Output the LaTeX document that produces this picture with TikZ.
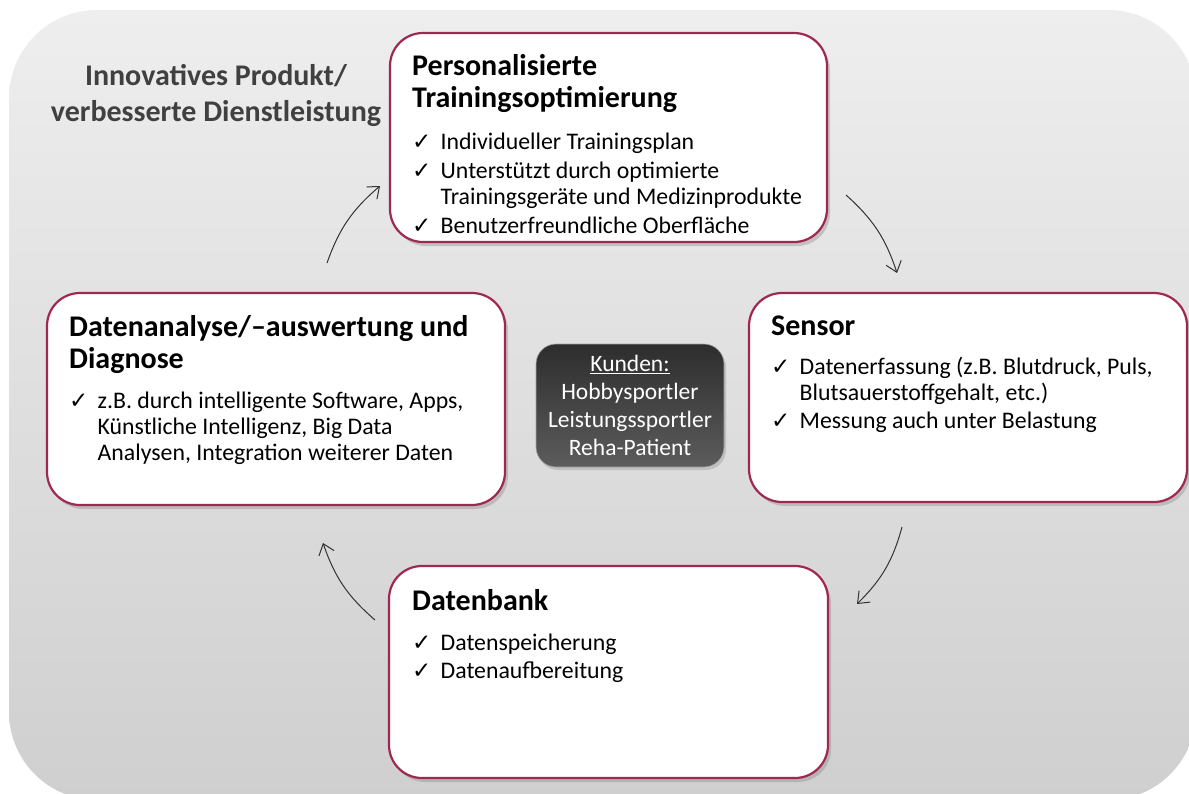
\documentclass[tikz,border=0pt]{standalone}
\usepackage{fontspec}
\setmainfont{Carlito}
\newfontfamily\chkfont{DejaVu Sans}
\usetikzlibrary{shadows,arrows.meta}

\definecolor{rim}{RGB}{160,40,80}
\definecolor{bgtop}{RGB}{238,238,238}
\definecolor{bgbot}{RGB}{207,207,207}
\definecolor{kundtop}{RGB}{45,45,45}
\definecolor{kundbot}{RGB}{92,92,92}
\definecolor{labelgray}{RGB}{64,64,64}

\newcommand{\chk}{\makebox[28.5pt][l]{\chkfont\fontsize{23}{23}\selectfont ✓}}
\newcommand{\ind}{\hspace*{28.5pt}}

\tikzset{
  card/.style={draw=rim, line width=2.2pt, fill=white, rounded corners=33pt,
    drop shadow={shadow xshift=3pt, shadow yshift=-4pt, opacity=0.35}},
  heading/.style={anchor=base west, inner sep=0pt, align=left,
    font=\fontsize{30}{32}\selectfont\bfseries},
  items/.style={anchor=base west, inner sep=0pt, align=left,
    font=\fontsize{23.8}{26}\selectfont},
  flow/.style={line width=1pt, draw=black!80, -{Straight Barb[length=10pt,width=16pt]}}
}

\begin{document}
\begin{tikzpicture}[x=1pt, y=-1pt]
  \useasboundingbox (0,0) rectangle (1189,793);
  \shade[top color=bgtop, bottom color=bgbot, rounded corners=88pt] (9,10) rectangle (1196,800);

  \node[card, minimum width=437pt, minimum height=209pt] (train) at (608.5,137.5) {};
  \node[card, minimum width=438pt, minimum height=209pt] (sensor) at (968,397.5) {};
  \node[card, minimum width=458pt, minimum height=212pt] (analyse) at (276,399) {};
  \node[card, minimum width=439pt, minimum height=212pt] (bank) at (608.5,672) {};
  \node[draw=gray!70, line width=0.6pt, top color=kundtop, bottom color=kundbot,
        rounded corners=20pt, minimum width=188pt, minimum height=123pt,
        text=white, align=center, font=\fontsize{23.5}{28}\selectfont,
        drop shadow={shadow xshift=2pt, shadow yshift=-3pt, opacity=0.3}]
        (kunden) at (630,405.5) {\underline{Kunden:}\\Hobbysportler\\Leistungssportler\\Reha-Patient};

  \node[anchor=base, align=center, text=labelgray,
        font=\fontsize{30}{36}\selectfont\bfseries] (goal) at (216,121)
        {Innovatives Produkt/\\verbesserte Dienstleistung};

  \node[heading] (trainT) at (412,107) {Personalisierte\\Trainingsoptimierung};
  \node[items] (trainL) at (412,233) {\chk Individueller Trainingsplan\\[3pt]
    \chk Unterstützt durch optimierte\\\ind Trainingsgeräte und Medizinprodukte\\[3pt]
    \chk Benutzerfreundliche Oberfläche};

  \node[heading] (sensorT) at (771,335) {Sensor};
  \node[items] (sensorL) at (771,428) {\chk Datenerfassung (z.B. Blutdruck, Puls,\\
    \ind Blutsauerstoffgehalt, etc.)\\[2pt]\chk Messung auch unter Belastung};

  \node[heading] (analyseT) at (69,368) {Datenanalyse/–auswertung und\\Diagnose};
  \node[items] (analyseL) at (69,460) {\chk z.B. durch intelligente Software, Apps,\\
    \ind Künstliche Intelligenz, Big Data\\\ind Analysen, Integration weiterer Daten};

  \node[heading] (bankT) at (412,610) {Datenbank};
  \node[items] (bankL) at (412,678) {\chk Datenspeicherung\\[2pt]\chk Datenaufbereitung};

  \coordinate (tlA) at (327,263);
  \coordinate (tlB) at (380,186);
  \coordinate (trA) at (846,195);
  \coordinate (trB) at (897,273);
  \coordinate (brA) at (902,527);
  \coordinate (brB) at (857,604);
  \coordinate (blA) at (375,620);
  \coordinate (blB) at (323,543);
  \draw[flow] (tlA) to[bend left=15] (tlB);
  \draw[flow] (trA) to[bend left=15] (trB);
  \draw[flow] (brA) to[bend left=15] (brB);
  \draw[flow] (blA) to[bend left=15] (blB);
\end{tikzpicture}
\end{document}
